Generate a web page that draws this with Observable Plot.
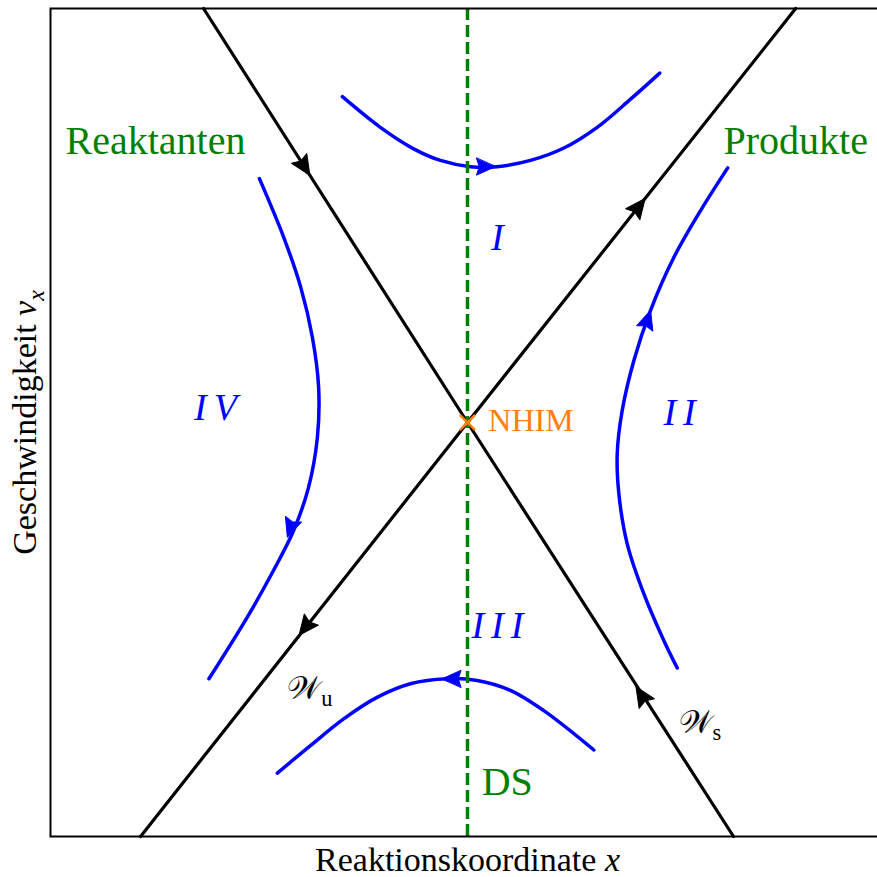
<!DOCTYPE html>
<html><head><meta charset="utf-8">
<script src="https://cdn.jsdelivr.net/npm/d3@7"></script>
<script src="https://cdn.jsdelivr.net/npm/@observablehq/plot@0.6"></script>
<style>html,body{margin:0;padding:0;background:#fff;}</style>
</head><body><div id="chart"></div>
<script>
// Manifolds (black lines through the saddle point)
const stableManifold = [{x: -0.633, y: 1}, {x: 0, y: 0}, {x: 0.638, y: -1}];
const unstableManifold = [{x: -0.784, y: -1}, {x: 0, y: 0}, {x: 0.787, y: 1}];

// Trajectories in the four regions
const trajI = [
  {x: -0.300, y: 0.787}, {x: -0.209, y: 0.713}, {x: -0.129, y: 0.661}, {x: -0.065, y: 0.633},
  {x: 0.007, y: 0.618}, {x: 0.071, y: 0.618}, {x: 0.151, y: 0.633}, {x: 0.231, y: 0.663},
  {x: 0.311, y: 0.713}, {x: 0.391, y: 0.781}, {x: 0.461, y: 0.844}
];
const trajII = [
  {x: 0.624, y: 0.615}, {x: 0.559, y: 0.512}, {x: 0.495, y: 0.399}, {x: 0.439, y: 0.271},
  {x: 0.399, y: 0.150}, {x: 0.371, y: 0.029}, {x: 0.359, y: -0.076}, {x: 0.363, y: -0.172},
  {x: 0.383, y: -0.293}, {x: 0.423, y: -0.414}, {x: 0.471, y: -0.527}, {x: 0.503, y: -0.593}
];
const trajIII = [
  {x: -0.456, y: -0.847}, {x: -0.376, y: -0.780}, {x: -0.297, y: -0.716}, {x: -0.217, y: -0.664},
  {x: -0.137, y: -0.631}, {x: -0.049, y: -0.619}, {x: 0.023, y: -0.623}, {x: 0.103, y: -0.647},
  {x: 0.183, y: -0.696}, {x: 0.303, y: -0.791}
];
const trajIV = [
  {x: -0.499, y: 0.589}, {x: -0.441, y: 0.448}, {x: -0.400, y: 0.327}, {x: -0.372, y: 0.206},
  {x: -0.357, y: 0.085}, {x: -0.360, y: -0.036}, {x: -0.381, y: -0.156}, {x: -0.417, y: -0.261},
  {x: -0.465, y: -0.357}, {x: -0.528, y: -0.470}, {x: -0.620, y: -0.619}
];

// Arrow heads: tip position and direction (data units, y up)
const arrowsBlack = [
  {x: -0.378, y: 0.597, dx: 0.633, dy: -1},
  {x: 0.404, y: -0.638, dx: -0.638, dy: 1},
  {x: 0.426, y: 0.541, dx: 0.787, dy: 1},
  {x: -0.404, y: -0.514, dx: -0.784, dy: -1}
];
const arrowsBlue = [
  {x: 0.067, y: 0.618, dx: 1, dy: 0},
  {x: 0.439, y: 0.271, dx: 0.32, dy: 1},
  {x: -0.061, y: -0.619, dx: -1, dy: 0},
  {x: -0.432, y: -0.277, dx: -0.34, dy: -1}
];

const dividingSurface = [0];
const nhim = [{x: 0, y: 0}];

const greenLabels = [
  {x: -0.964, y: 0.679, text: "Reaktanten"},
  {x: 0.614, y: 0.679, text: "Produkte"},
  {x: 0.034, y: -0.870, text: "DS"}
];
const nhimLabel = [{x: 0.050, y: 0.005, text: "NHIM"}];
const regionLabels = [
  {x: 0.080, y: 0.447, text: "I"},
  {x: 0.517, y: 0.024, text: "II"},
  {x: 0.080, y: -0.490, text: "III"},
  {x: -0.596, y: 0.036, text: "IV"}
];
const manifoldLabels = [
  {x: -0.432, y: -0.643, text: "𝒲_{u}"},
  {x: 0.506, y: -0.725, text: "𝒲_{s}"}
];
const xLabel = "Reaktionskoordinate *x*";
const yLabel = "Geschwindigkeit *v*_*{x}";

const FONT = "Liberation Serif";

const headShape = {
  draw(context, l, r) {
    context.moveTo(0, -l);
    context.lineTo(r, 0);
    context.lineTo(0, -l * 0.15);
    context.lineTo(-r, 0);
    context.closePath();
  }
};
const angle = (d) => Math.atan2(d.dx, d.dy) * 180 / Math.PI;

function rich(index, scales, values, dims, ctx, next) {
  const g = next(index, scales, values, dims, ctx);
  g.querySelectorAll("text").forEach((t) => {
    const s = t.textContent;
    if (!/[*_]/.test(s)) return;
    t.textContent = "";
    const re = /_\*\{([^}]+)\}|_\{([^}]+)\}|\*([^*]+)\*|([^*_]+)/gu;
    let m;
    while ((m = re.exec(s))) {
      const ts = document.createElementNS("http://www.w3.org/2000/svg", "tspan");
      if (m[1]) { ts.setAttribute("font-size", "70%"); ts.setAttribute("dy", "0.3em"); ts.setAttribute("font-style", "italic"); ts.textContent = m[1]; }
      else if (m[2]) { ts.setAttribute("font-size", "70%"); ts.setAttribute("dy", "0.3em"); ts.textContent = m[2]; }
      else if (m[3]) { ts.setAttribute("font-style", "italic"); ts.textContent = m[3]; }
      else ts.textContent = m[4];
      t.appendChild(ts);
    }
  });
  return g;
}
function spaced(index, scales, values, dims, ctx, next) {
  const g = next(index, scales, values, dims, ctx);
  g.querySelectorAll("text").forEach((t) => t.setAttribute("letter-spacing", "7px"));
  return g;
}

const chart = Plot.plot({
  width: 877,
  height: 877,
  marginLeft: 50,
  marginRight: -7,
  marginTop: 8,
  marginBottom: 41,
  style: {fontFamily: FONT, background: "white"},
  x: {domain: [-1, 1], axis: null},
  y: {domain: [-1, 1], axis: null},
  marks: [
    Plot.line(trajI, {x: "x", y: "y", stroke: "blue", strokeWidth: 3.5, curve: "catmull-rom"}),
    Plot.line(trajII, {x: "x", y: "y", stroke: "blue", strokeWidth: 3.5, curve: "catmull-rom"}),
    Plot.line(trajIII, {x: "x", y: "y", stroke: "blue", strokeWidth: 3.5, curve: "catmull-rom"}),
    Plot.line(trajIV, {x: "x", y: "y", stroke: "blue", strokeWidth: 3.5, curve: "catmull-rom"}),
    Plot.vector(arrowsBlue, {x: "x", y: "y", rotate: angle, length: 19, r: 8.5, shape: headShape, anchor: "end", fill: "blue", stroke: "blue", strokeWidth: 1}),
    Plot.line(stableManifold, {x: "x", y: "y", stroke: "black", strokeWidth: 3.2}),
    Plot.line(unstableManifold, {x: "x", y: "y", stroke: "black", strokeWidth: 3.2}),
    Plot.vector(arrowsBlack, {x: "x", y: "y", rotate: angle, length: 20, r: 9, shape: headShape, anchor: "end", fill: "black", stroke: "black", strokeWidth: 1}),
    Plot.ruleX(dividingSurface, {stroke: "green", strokeWidth: 3.5, strokeDasharray: "12,5"}),
    Plot.dot(nhim, {x: "x", y: "y", symbol: "times", r: 7, stroke: "#ff7f0e", strokeWidth: 2.5}),
    Plot.text(greenLabels, {x: "x", y: "y", text: "text", textAnchor: "start", fill: "green", fontSize: 40, fontFamily: FONT}),
    Plot.text(nhimLabel, {x: "x", y: "y", text: "text", textAnchor: "start", fill: "#ff7f0e", fontSize: 32, fontFamily: FONT}),
    Plot.text(regionLabels, {x: "x", y: "y", text: "text", textAnchor: "middle", fill: "blue", fontSize: 38, fontStyle: "italic", fontFamily: FONT, render: spaced}),
    Plot.text(manifoldLabels, {x: "x", y: "y", text: "text", textAnchor: "start", fill: "black", fontSize: 32, fontFamily: FONT, render: rich}),
    Plot.text([xLabel], {text: (d) => d, frameAnchor: "bottom", dy: 24, textAnchor: "middle", lineAnchor: "middle", fontSize: 34, fill: "black", fontFamily: FONT, render: rich}),
    Plot.text([yLabel], {text: (d) => d, frameAnchor: "left", dx: -25, rotate: -90, textAnchor: "middle", lineAnchor: "middle", fontSize: 34, fill: "black", fontFamily: FONT, render: rich}),
    Plot.frame({stroke: "black", strokeWidth: 2})
  ]
});
document.getElementById("chart").appendChild(chart);
</script>
</body></html>
